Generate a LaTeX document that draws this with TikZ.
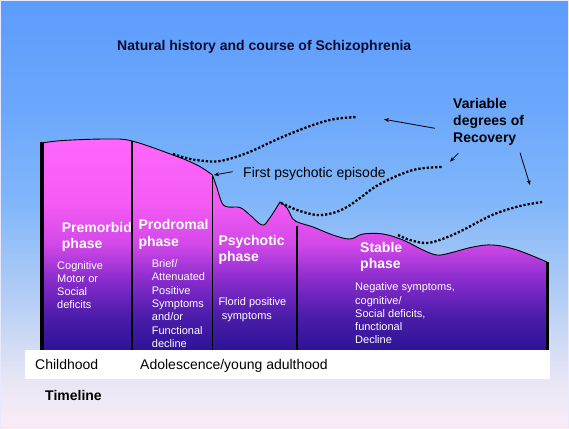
\documentclass[tikz,border=0pt]{standalone}
\usepackage{fontspec}
\setmainfont{Liberation Sans}
\usetikzlibrary{arrows.meta}
\definecolor{bgA}{RGB}{250,236,247}
\definecolor{bgB}{RGB}{232,230,245}
\definecolor{bgC}{RGB}{180,206,245}
\definecolor{bgD}{RGB}{128,182,250}
\definecolor{bgE}{RGB}{106,166,252}
\definecolor{bgF}{RGB}{92,156,253}
\definecolor{pA}{RGB}{45,20,150}
\definecolor{pB}{RGB}{75,28,170}
\definecolor{pC}{RGB}{140,45,205}
\definecolor{pD}{RGB}{210,72,232}
\definecolor{pE}{RGB}{245,92,245}
\definecolor{pF}{RGB}{255,102,250}
\definecolor{titlec}{RGB}{12,12,45}
\pgfdeclareverticalshading{bgshade}{100bp}{color(0bp)=(bgA); color(25bp)=(bgA); color(30.6bp)=(bgB); color(40bp)=(bgC); color(51.6bp)=(bgD); color(63.3bp)=(bgE); color(75bp)=(bgF); color(100bp)=(bgF)}
\pgfdeclareverticalshading{purpshade}{100bp}{color(0bp)=(pA); color(25bp)=(pA); color(33bp)=(pB); color(42bp)=(pC); color(50bp)=(pD); color(60bp)=(pE); color(75bp)=(pF); color(100bp)=(pF)}
\tikzset{
  phaselbl/.style={anchor=base west, inner sep=0pt, align=left, text=white, font=\bfseries\fontsize{14}{16.7}\selectfont},
  bodytxt/.style={anchor=base west, inner sep=0pt, align=left, text=white, font=\fontsize{11}{13.3}\selectfont},
  blacktxt/.style={anchor=base west, inner sep=0pt, align=left, text=black, font=\fontsize{14}{17}\selectfont},
  dotcurve/.style={line width=2.3pt, dash pattern=on 2.3pt off 1.9pt, black},
  divider/.style={line width=1.4pt, black},
  edgeline/.style={line width=3.5pt, black},
  ptr/.style={line width=0.8pt, black, -{Stealth[length=5pt,width=4pt]}}
}
\begin{document}
\begin{tikzpicture}[x=1pt,y=-1pt]
\useasboundingbox (0,0) rectangle (569,428);
\shade[shading=bgshade] (0,0) rectangle (569,428);
\draw[white!70!blue!30, line width=1.2pt] (0.6,0.6) rectangle (568.4,427.4);
% purple mountain
\shade[shading=purpshade] (42,350) -- (42,143)
  -- plot[smooth, tension=0.6] coordinates {(42,143) (63,140.5) (107,139) (132,141) (173,155) (197,165) (212.5,175)}
  -- plot[smooth, tension=0.6] coordinates {(212.5,175) (217,188) (222,203) (228,207) (240,207.5) (250,215) (262,225) (269,219) (280,202)}
  -- plot[smooth, tension=0.6] coordinates {(280,202) (287,208) (293,219) (300,223) (313,227) (333,235) (350,239) (363,234) (383,234) (403,240) (423,250) (437,255) (450,253) (473,247) (493,245) (517,250) (547,262)}
  -- (547,350) -- cycle;
\draw[black, line width=0.9pt] plot[smooth, tension=0.6] coordinates {(42,143) (63,140.5) (107,139) (132,141) (173,155) (197,165) (212.5,175)}
  -- plot[smooth, tension=0.6] coordinates {(212.5,175) (217,188) (222,203) (228,207) (240,207.5) (250,215) (262,225) (269,219) (280,202)}
  -- plot[smooth, tension=0.6] coordinates {(280,202) (287,208) (293,219) (300,223) (313,227) (333,235) (350,239) (363,234) (383,234) (403,240) (423,250) (437,255) (450,253) (473,247) (493,245) (517,250) (547,262)};
\draw[edgeline] (42,142) -- (42,350);
\draw[edgeline] (547.5,262) -- (547.5,350);
\draw[divider] (132,141) -- (132,350);
\draw[divider] (212.5,175) -- (212.5,350);
\draw[divider] (297,226) -- (297,350);
% dotted recovery curves
\draw[dotcurve] plot[smooth, tension=0.6] coordinates {(173,154) (186,158) (200,160.5) (220,161) (247,153) (280,138) (313,125) (335,119) (357,117)};
\draw[dotcurve] plot[smooth, tension=0.6] coordinates {(281,203) (290,207) (300,211) (317,215) (333,213) (347,207) (360,198) (380,184) (413,170) (442,167)};
\draw[dotcurve] plot[smooth, tension=0.6] coordinates {(398,235) (410,240) (427,243) (445,238) (463,230) (480,221) (497,213) (520,206) (542,202)};
% timeline band
\fill[white] (25,350) rectangle (550,379);
% texts (base anchor = baseline of the last line)
\node[anchor=base west, inner sep=0pt, text=titlec, font=\bfseries\fontsize{14}{17}\selectfont] (title) at (117,50) {Natural history and course of Schizophrenia};
\node[blacktxt, font=\bfseries\fontsize{14}{17}\selectfont] (recov) at (453,142) {Variable\\degrees of\\Recovery};
\node[blacktxt] (first) at (243,177) {First psychotic episode};
\node[phaselbl] (premorbid) at (61.7,248.7) {Premorbid\\phase};
\node[phaselbl] (prodromal) at (138.3,246.2) {Prodromal\\phase};
\node[phaselbl] (psychotic) at (218.3,261.7) {Psychotic\\phase};
\node[phaselbl] (stable) at (360,268.7) {Stable\\phase};
\node[bodytxt] (premb) at (57,308.9) {Cognitive\\Motor or\\Social\\deficits};
\node[bodytxt] (prodb) at (151.7,347.3) {Brief/\\Attenuated\\Positive\\Symptoms\\and/or\\Functional\\decline};
\node[bodytxt] (psyb) at (218.3,319) {Florid positive\\\hspace*{3.3pt}symptoms};
\node[bodytxt] (stabb) at (355,343.9) {Negative symptoms,\\cognitive/\\Social deficits,\\functional\\Decline};
\node[blacktxt] (child) at (35,369.3) {Childhood};
\node[blacktxt] (adol) at (140,369.3) {Adolescence/young adulthood};
\node[blacktxt, font=\bfseries\fontsize{14}{17}\selectfont] (timeline) at (45,400.7) {Timeline};
% arrows
\coordinate (a1s) at (435,128.3);
\coordinate (a1e) at (384,119.3);
\coordinate (a2s) at (458.3,153.3);
\coordinate (a2e) at (450,161.7);
\coordinate (a3s) at (520,152.7);
\coordinate (a3e) at (530,185);
\coordinate (fs) at (232.7,171.7);
\coordinate (fe) at (214,175);
\draw[ptr] (a1s) -- (a1e);
\draw[ptr] (a2s) -- (a2e);
\draw[ptr] (a3s) -- (a3e);
\draw[ptr] (fs) -- (fe);
\end{tikzpicture}
\end{document}
